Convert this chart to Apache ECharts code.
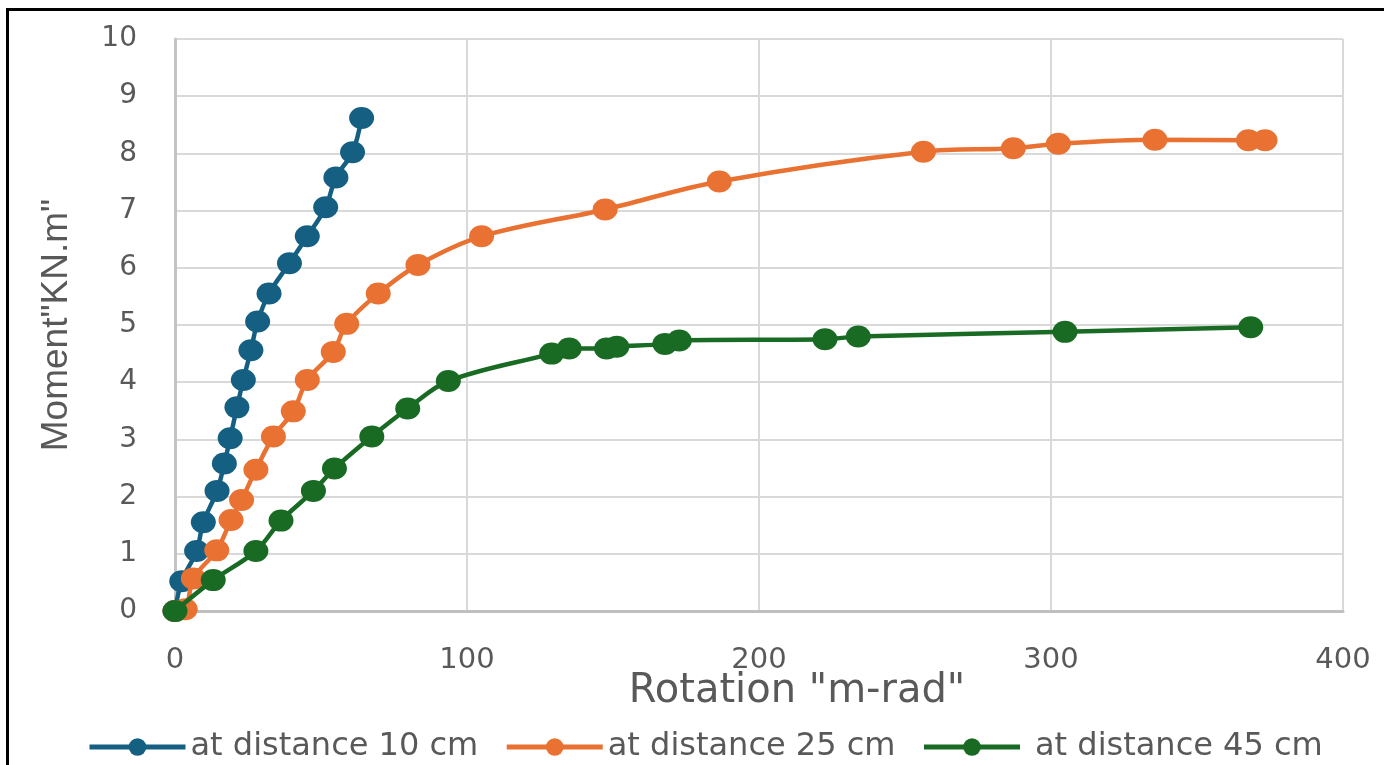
<!DOCTYPE html>
<html>
<head>
<meta charset="utf-8">
<script src="https://cdn.jsdelivr.net/npm/echarts@6/dist/echarts.min.js"></script>
<style>
html,body{margin:0;padding:0;background:#fff;}
#wrap{position:relative;width:1384px;height:765px;overflow:hidden;}
#chart{position:absolute;left:0;top:0;width:1384px;height:765px;}
#frame{position:absolute;left:6px;top:8px;width:1400px;height:800px;border-left:3px solid #000;border-top:3px solid #000;pointer-events:none;}
</style>
</head>
<body>
<div id="wrap"><div id="chart"></div><div id="frame"></div></div>
<script>
const seriesNames = ['at distance 10 cm', 'at distance 25 cm', 'at distance 45 cm'];
const xTicks = [0, 100, 200, 300, 400];
const yTicks = [0, 1, 2, 3, 4, 5, 6, 7, 8, 9, 10];

const rot10 = [0, 2.3, 7.4, 9.7, 14.4, 16.9, 18.9, 21.2, 23.4, 26.0, 28.3, 32.2, 39.2, 45.3, 51.6, 55.1, 60.8, 63.9];
const mom10 = [0, 0.52, 1.05, 1.55, 2.10, 2.58, 3.02, 3.56, 4.04, 4.56, 5.06, 5.55, 6.08, 6.55, 7.06, 7.58, 8.02, 8.62];

const rot25 = [0, 3.5, 6.3, 14.3, 19.2, 22.8, 27.7, 33.7, 40.5, 45.3, 54.2, 58.8, 69.6, 83.2, 105.0, 147.3, 186.4, 256.3, 287.1, 302.5, 335.6, 367.6, 373.3];
const mom25 = [0, 0.03, 0.57, 1.06, 1.59, 1.94, 2.47, 3.05, 3.49, 4.04, 4.53, 5.02, 5.55, 6.05, 6.55, 7.02, 7.51, 8.03, 8.09, 8.17, 8.24, 8.23, 8.23];

const rot45 = [0, 13.1, 27.7, 36.3, 47.4, 54.6, 67.4, 79.7, 93.6, 129.0, 135.0, 147.8, 151.3, 167.8, 172.7, 222.6, 234.0, 304.8, 368.4];
const mom45 = [0, 0.54, 1.05, 1.58, 2.10, 2.49, 3.05, 3.54, 4.02, 4.50, 4.59, 4.59, 4.62, 4.67, 4.73, 4.75, 4.80, 4.88, 4.96];

const colors = ['#156082', '#E97132', '#196B24'];
const WIDE = "'DejaVu Sans', Verdana, sans-serif";
const NARROW = "'Liberation Sans', Arial, sans-serif";
const TXT = '#595959';

function pairs(xs, ys){ return xs.map((x,i)=>[x, ys[i]]); }

const chart = echarts.init(document.getElementById('chart'));
const mk = (i, xs, ys) => ({
  name: seriesNames[i],
  type: 'line',
  data: pairs(xs, ys),
  smooth: 0.35,
  symbol: 'circle',
  symbolSize: [25, 22],
  showAllSymbol: true,
  lineStyle: {width: 4.5, color: colors[i]},
  itemStyle: {color: colors[i]},
  z: 2 + i
});

chart.setOption({
  animation: false,
  color: colors,
  textStyle: {fontFamily: WIDE},
  grid: {left: 175, right: 41, top: 39, bottom: 154, containLabel: false},
  xAxis: {
    type: 'value', min: xTicks[0], max: xTicks[xTicks.length-1], interval: 100,
    name: 'Rotation "m-rad"', nameLocation: 'middle', nameGap: 61, nameMoveOverlap: false,
    nameTextStyle: {fontSize: 40, color: TXT, fontFamily: WIDE, padding: [0, 0, 0, 76]},
    axisLine: {show: true, onZero: false, lineStyle: {color: '#bfbfbf', width: 3}},
    axisTick: {show: false},
    axisLabel: {fontSize: 29, color: TXT, margin: 35, fontFamily: WIDE},
    splitLine: {show: true, lineStyle: {color: '#d9d9d9', width: 2}}
  },
  yAxis: {
    type: 'value', min: yTicks[0], max: yTicks[yTicks.length-1], interval: 1,
    name: 'Moment"KN.m"', nameLocation: 'middle', nameGap: 100, nameRotate: 90, nameMoveOverlap: false,
    nameTextStyle: {fontSize: 37, color: TXT, fontFamily: NARROW},
    axisLine: {show: true, onZero: false, lineStyle: {color: '#c4c4c4', width: 3}},
    axisTick: {show: false},
    axisLabel: {fontSize: 28, color: TXT, margin: 38, fontFamily: WIDE},
    splitLine: {show: true, lineStyle: {color: '#d9d9d9', width: 2}}
  },
  legend: {
    bottom: -3, left: 82,
    itemWidth: 96, itemHeight: 22, itemGap: 26,
    lineStyle: {width: 5},
    textStyle: {fontSize: 32, color: TXT, fontFamily: WIDE},
    data: [
      {name: seriesNames[0]},
      {name: seriesNames[1]},
      {name: seriesNames[2], textStyle: {padding: [0, 0, 0, 10]}}
    ]
  },
  series: [mk(0, rot10, mom10), mk(1, rot25, mom25), mk(2, rot45, mom45)]
});
</script>
</body>
</html>
